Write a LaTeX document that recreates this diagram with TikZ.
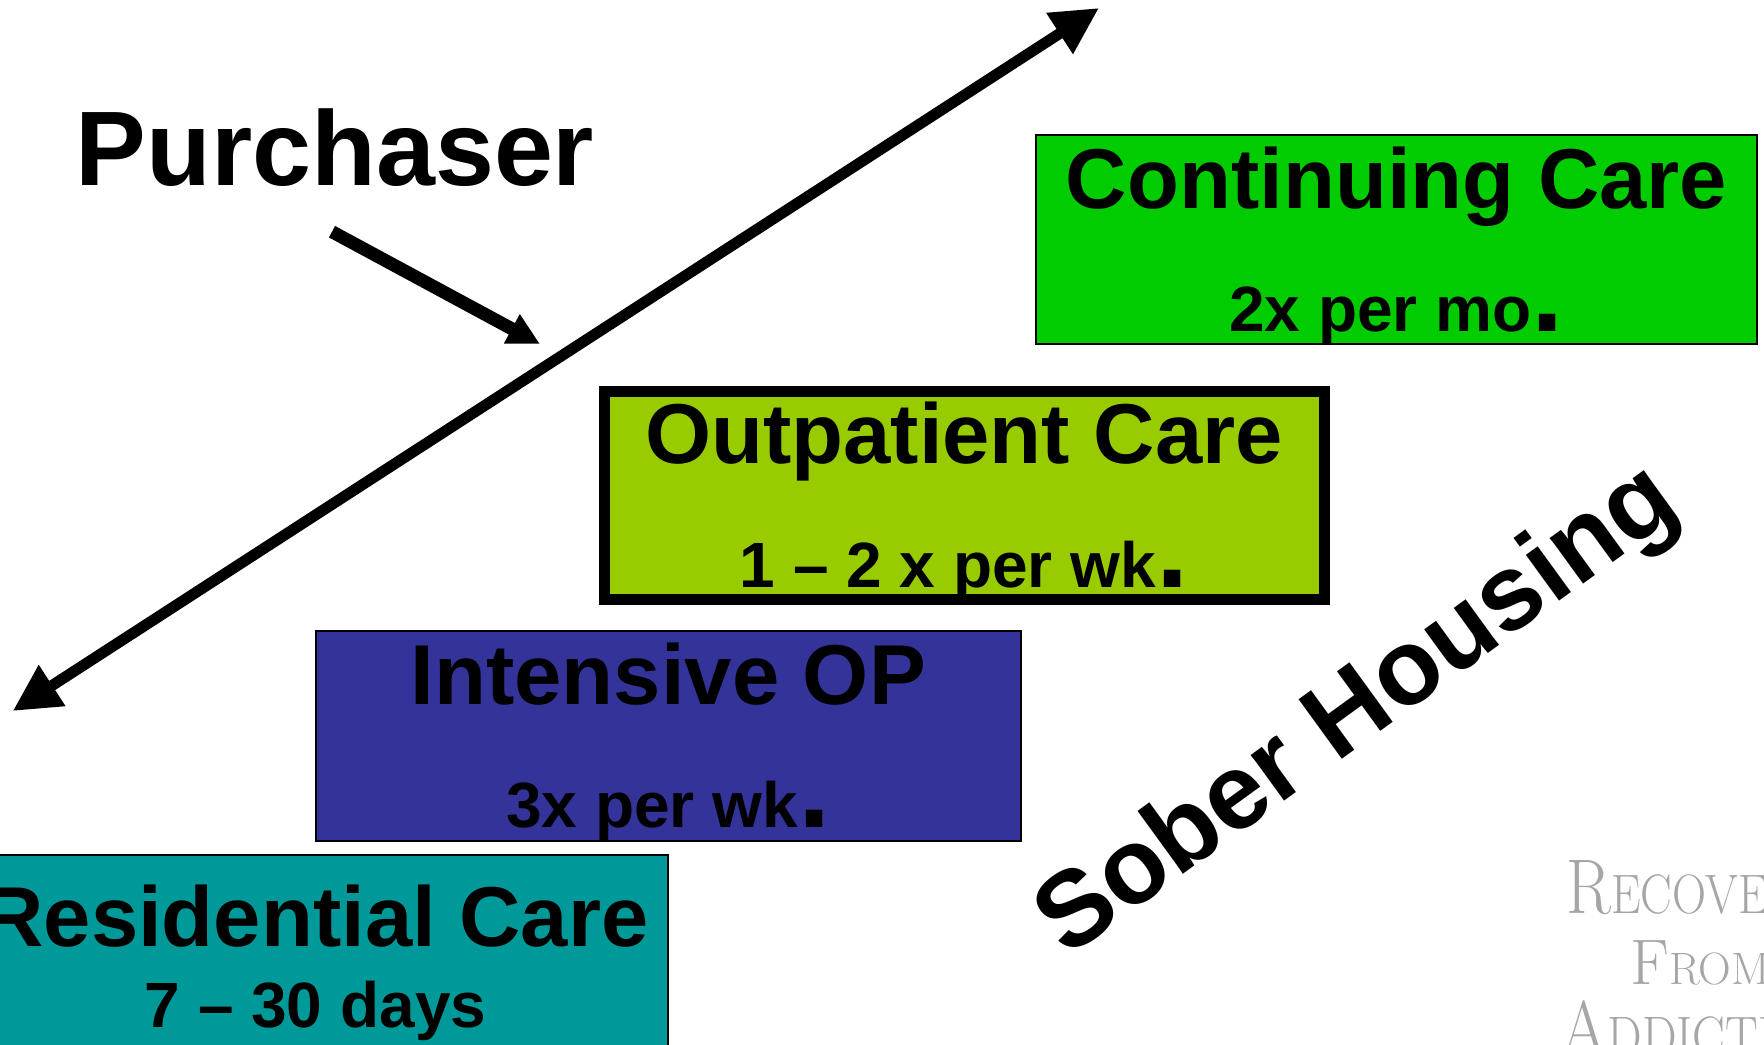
\documentclass[tikz,border=0pt]{standalone}
\usepackage{fontspec}
\newfontfamily\arialfont{Liberation Sans}
\usetikzlibrary{arrows.meta,positioning}
\definecolor{contgreen}{HTML}{00CC00}
\definecolor{opgreen}{HTML}{99CC00}
\definecolor{iopblue}{HTML}{333399}
\definecolor{resteal}{HTML}{009999}
\tikzset{
  >=Stealth,
  box/.style={rectangle, draw, line width=1pt, inner sep=0pt, outer sep=0pt},
  ttl/.style={font=\arialfont\bfseries\fontsize{42.5}{42.5}\selectfont, anchor=base, inner sep=0pt},
  sub/.style={font=\arialfont\bfseries\fontsize{32}{32}\selectfont, anchor=base, inner sep=0pt},
  big/.style={font=\arialfont\bfseries\fontsize{53}{53}\selectfont, inner sep=0pt},
  wm/.style={text=black!35, anchor=base west, inner sep=0pt},
  bigarr/.style={{Triangle[length=23.5pt,width=23pt]}-{Triangle[length=23.5pt,width=23pt]}, line width=5.5pt},
  parr/.style={-{Triangle[length=16pt,width=15.5pt]}, line width=6.5pt}
}
\newcommand{\bigdot}{{\fontsize{58}{58}\selectfont .}}
\newcommand{\smc}[1]{{\fontsize{27.8}{27.8}\selectfont #1}}

\begin{document}
\begin{tikzpicture}[x=0.5pt, y=-0.5pt]
  \useasboundingbox (0,0) rectangle (1764,1044);
  \clip (0,0) rectangle (1764,1044);

  % care levels
  \node[box, fill=contgreen, minimum width=360.5pt, minimum height=104.5pt] (cont) at (1396.5,239.5) {};
  \node[box, fill=opgreen, line width=5.5pt, minimum width=360pt, minimum height=103.75pt] (op) at (964,495.25) {};
  \node[box, fill=iopblue, minimum width=352.5pt, minimum height=105pt] (iop) at (668.3,736) {};
  \node[box, fill=resteal, minimum width=352.5pt, minimum height=105pt] (res) at (315.5,959.5) {};

  \node[ttl] (contT) at ([yshift=-36.5pt]cont.north) {Continuing Care};
  \node[sub] (contS) at ([yshift=6.5pt]cont.south) {2x per mo\bigdot};
  \node[ttl] (opT) at ([yshift=-35.75pt]op.north) {Outpatient Care};
  \node[sub] (opS) at ([yshift=6pt]op.south) {1 – 2 x per wk\bigdot};
  \node[ttl] (iopT) at ([yshift=-36.5pt]iop.north) {Intensive OP};
  \node[sub] (iopS) at ([yshift=7pt]iop.south) {3x per wk\bigdot};
  \node[ttl] (resT) at ([yshift=-46pt]res.north) {Residential Care};
  \node[sub] (resS) at ([yshift=18.5pt]res.south) {7 – 30 days};

  % labels
  \node[big, anchor=base] (purch) at (335,185) {Purchaser};
  \node[big, font=\arialfont\bfseries\fontsize{53.5}{53.5}\selectfont, rotate=36] (sober) at (1359,713) {Sober Housing};

  % arrows
  \coordinate (lowEnd) at (12.7,711);
  \coordinate (highEnd) at (1099,8);
  \coordinate (pTail) at (332,231.7);
  \coordinate (pTip) at (540,344);
  \draw[bigarr] (lowEnd) -- (highEnd);
  \draw[parr] (pTail) -- (pTip);

  % watermark
  \node[wm] (wm1) at (1566,913) {\scalebox{0.85}[1]{\fontsize{38.8}{38.8}\selectfont R\smc{ECOVERY}}};
  \node[wm] (wm2) at (1630,984) {\scalebox{1.0}[1]{\fontsize{32.2}{32.2}\selectfont F{\fontsize{22.7}{22.7}\selectfont ROM}}};
  \node[wm] (wm3) at (1560,1055) {\scalebox{0.88}[1]{\fontsize{38.8}{38.8}\selectfont A\smc{DDICTION}}};
\end{tikzpicture}
\end{document}
